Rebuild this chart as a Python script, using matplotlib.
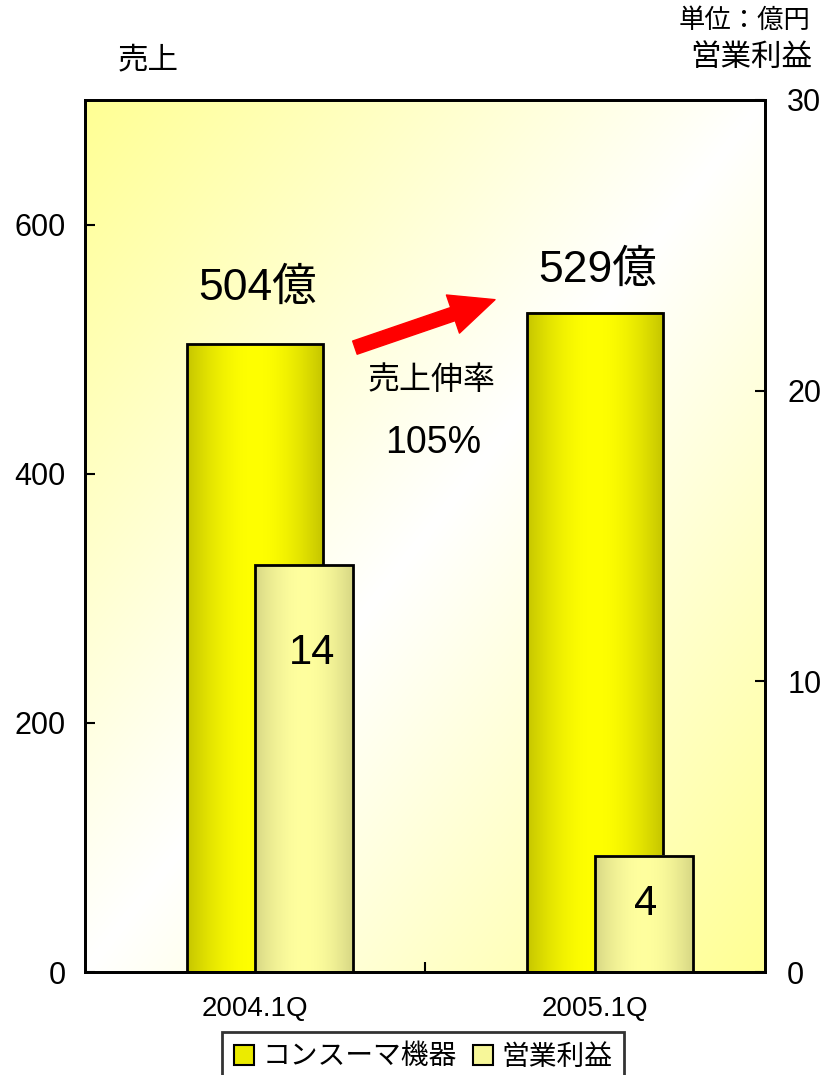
import numpy as np
import matplotlib
matplotlib.use("Agg")
from matplotlib import pyplot as plt
from matplotlib.patches import Patch

plt.rcParams['font.family'] = ['Liberation Sans', 'Noto Sans CJK JP']

# data
periods = ['2004.1Q', '2005.1Q']
sales = [504, 529]           # 売上 (億円), left axis
profit = [14, 4]             # 営業利益 (億円), right axis
sales_labels = ['504億', '529億']
profit_labels = ['14', '4']
sales_ticks = [0, 200, 400, 600]
profit_ticks = [0, 10, 20, 30]

SALES_DARK = np.array([0.77, 0.77, 0.0])
SALES_LIGHT = np.array([1.0, 1.0, 0.0])
PROF_DARK = np.array([0.84, 0.84, 0.52])
PROF_LIGHT = np.array([1.0, 1.0, 0.62])


def hgrad(dark, light, n=256):
    s = np.linspace(0, 1, n)
    f = np.sin(np.pi * s) ** 0.9
    return (dark[None, :] + (light - dark)[None, :] * f[:, None])[None, :, :]


def fill_bars(axis, bars, dark, light, z):
    # paint a horizontal gradient inside every bar rectangle
    for p in bars:
        x0, y0 = p.get_x(), p.get_y()
        axis.imshow(hgrad(dark, light), extent=[x0, x0 + p.get_width(), y0, y0 + p.get_height()],
                    aspect='auto', zorder=z, interpolation='bilinear')


fig = plt.figure(figsize=(8.25, 10.75), dpi=100)
ax = fig.add_axes([0.1030, 0.0958, 0.8242, 0.8112])
ax2 = ax.twinx()

# background: yellow at top-left and bottom-right, white across the middle diagonal
u, v = np.meshgrid(np.linspace(0, 1, 300), np.linspace(0, 1, 300))
w = np.abs(u + v - 1)[..., None]
bg_yellow = np.array([1.0, 1.0, 0.58])
bg = 1 - (1 - bg_yellow) * w
ax.imshow(bg, extent=(0, 1, 0, 1), transform=ax.transAxes, aspect='auto', zorder=0,
          interpolation='bilinear')

x = np.arange(len(periods))
b1 = ax.bar(x, sales, width=0.4, facecolor='none', edgecolor='black', linewidth=2, zorder=3)
fill_bars(ax, b1, SALES_DARK, SALES_LIGHT, 2)
b2 = ax2.bar(x, profit, width=0.288, align='edge', facecolor='none', edgecolor='black',
             linewidth=2, zorder=3)
fill_bars(ax2, b2, PROF_DARK, PROF_LIGHT, 2)

for i, p in enumerate(b1):
    ax.annotate(sales_labels[i], xy=(p.get_x() + p.get_width() / 2, p.get_height()),
                xytext=(2, [40, 31][i]), textcoords='offset points',
                ha='center', va='center', fontsize=32, zorder=5)
for i, p in enumerate(b2):
    ax2.annotate(profit_labels[i], xy=(p.get_x() + p.get_width() / 2, p.get_height()),
                 xytext=([6, 1][i], [-63, -35][i]), textcoords='offset points',
                 ha='center', va='center', fontsize=30, zorder=5)

# growth arrow and text
ax.annotate('', xy=(0.603, 0.771), xytext=(0.397, 0.716), xycoords='axes fraction',
            arrowprops=dict(arrowstyle='simple,head_length=1.6,head_width=1.45,tail_width=0.5',
                            color='red', mutation_scale=20, shrinkA=0, shrinkB=0), zorder=6)
ax.text(0.510, 0.678, '売上伸率', transform=ax.transAxes, ha='center', va='center', fontsize=23)
ax.text(0.512, 0.607, '105%', transform=ax.transAxes, ha='center', va='center', fontsize=27)

# axes
ax.set_xlim(-0.5, 1.5)
ax.set_ylim(0, 700)
ax2.set_ylim(0, 30)
ax.set_yticks(sales_ticks)
ax2.set_yticks(profit_ticks)
ax.set_xticks(x, periods)
ax.set_xticks([0.5], minor=True)
ax.tick_params(axis='y', direction='in', length=7, width=1.5, labelsize=22, pad=14)
ax2.tick_params(axis='y', direction='in', length=7, width=1.5, labelsize=22, pad=16)
ax.tick_params(axis='x', which='major', length=0, labelsize=20, pad=17)
ax.tick_params(axis='x', which='minor', direction='in', length=7, width=1.5)
for a in (ax, ax2):
    for s in a.spines.values():
        s.set_linewidth(2)

fig.text(0.179, 0.944, '売上', ha='center', va='center', fontsize=22)
fig.text(0.982, 0.981, '単位：億円', ha='right', va='center', fontsize=19)
fig.text(0.984, 0.946, '営業利益', ha='right', va='center', fontsize=22)

handles = [Patch(facecolor=(0.92, 0.92, 0.0), edgecolor='black', linewidth=1.5),
           Patch(facecolor=(0.97, 0.97, 0.6), edgecolor='black', linewidth=1.5)]
leg = fig.legend(handles, ['コンスーマ機器', '営業利益'], loc='upper center',
                 bbox_to_anchor=(0.513, 0.04), ncol=2, fontsize=20, frameon=True,
                 fancybox=False, handlelength=0.7, handleheight=0.7, handletextpad=0.3,
                 columnspacing=0.6, borderpad=0.45, borderaxespad=0)
leg.get_frame().set_edgecolor('black')
leg.get_frame().set_linewidth(2)

fig.savefig('out.png', dpi=100)
